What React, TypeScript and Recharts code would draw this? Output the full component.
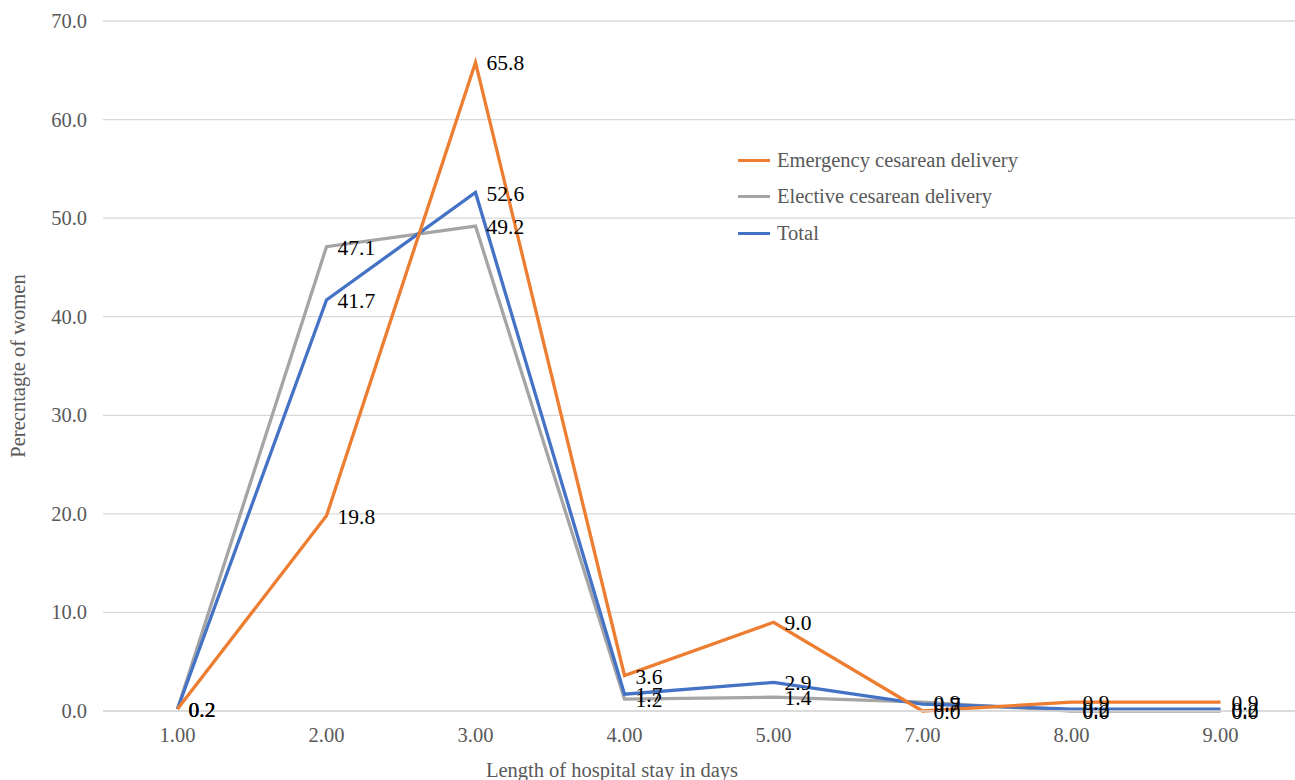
import React from 'react';
import { LineChart, Line, XAxis, YAxis, CartesianGrid, Legend, LabelList } from 'recharts';

const days = ['1.00', '2.00', '3.00', '4.00', '5.00', '7.00', '8.00', '9.00'];
const emergency = [0.2, 19.8, 65.8, 3.6, 9.0, 0.0, 0.9, 0.9];
const elective = [0.2, 47.1, 49.2, 1.2, 1.4, 0.9, 0.0, 0.0];
const total = [0.2, 41.7, 52.6, 1.7, 2.9, 0.7, 0.2, 0.2];
const yTicks = [0, 10, 20, 30, 40, 50, 60, 70];

const series = [
  { key: 'emergency', name: 'Emergency cesarean delivery', color: '#ED7D31' },
  { key: 'elective', name: 'Elective cesarean delivery', color: '#A5A5A5' },
  { key: 'total', name: 'Total', color: '#4472C4' },
];

const data = days.map((d, i) => ({
  day: d,
  emergency: emergency[i],
  elective: elective[i],
  total: total[i],
}));

const FONT = '"Liberation Serif", "Times New Roman", serif';
const GREY_TEXT = '#595959';
const FS = 20.5;

const fmt = (v: number) => Number(v).toFixed(1);

const LegendBox = () => (
  <div style={{ fontFamily: FONT, fontSize: FS, color: GREY_TEXT, whiteSpace: 'nowrap' }}>
    {series.map((s) => (
      <div key={s.key} style={{ display: 'flex', alignItems: 'center', height: 36.5 }}>
        <span style={{ display: 'inline-block', width: 32, height: 3, background: s.color, marginRight: 7 }} />
        <span>{s.name}</span>
      </div>
    ))}
  </div>
);

const XTick = (props: any) => {
  const { x, y, payload } = props;
  return (
    <text x={x} y={y} dy={13} textAnchor="middle" fill={GREY_TEXT} fontSize={FS} fontFamily={FONT}>
      {payload.value}
    </text>
  );
};

const YTick = (props: any) => {
  const { x, y, payload } = props;
  return (
    <text x={x} y={y} dy={7} textAnchor="end" fill={GREY_TEXT} fontSize={FS} fontFamily={FONT}>
      {fmt(payload.value)}
    </text>
  );
};

const PointLabel = (props: any) => {
  const x = props.x ?? props.viewBox?.x;
  const y = props.y ?? props.viewBox?.y;
  if (x == null || y == null) return null;
  return (
    <text x={x + 11} y={y} dy={8} textAnchor="start" fill="#000" fontSize={21.5} fontFamily={FONT}>
      {fmt(props.value)}
    </text>
  );
};

export default function App() {
  return (
    <div style={{ position: 'absolute', left: 0, top: 0, width: 1295, height: 780, background: '#fff', fontFamily: FONT }}>
      <LineChart width={1295} height={780} data={data} margin={{ top: 21, right: 0, bottom: 0, left: 0 }}>
        <CartesianGrid vertical={false} stroke="#D9D9D9" strokeWidth={1.3} />
        <XAxis
          dataKey="day"
          height={69}
          padding={{ left: 74.5, right: 74.5 }}
          axisLine={{ stroke: '#D9D9D9', strokeWidth: 1.3 }}
          tickLine={false}
          tickSize={0}
          tickMargin={18}
          tick={<XTick />}
          label={{
            content: () => (
              <text x={612} y={777} textAnchor="middle" fill={GREY_TEXT} fontSize={FS} fontFamily={FONT}>
                Length of hospital stay in days
              </text>
            ),
          }}
        />
        <YAxis
          width={103}
          domain={[0, 70]}
          ticks={yTicks}
          axisLine={false}
          tickLine={false}
          tickSize={0}
          tickMargin={16}
          tick={<YTick />}
          label={{
            content: () => (
              <text
                x={25}
                y={366}
                textAnchor="middle"
                fill={GREY_TEXT}
                fontSize={FS}
                fontFamily={FONT}
                transform="rotate(-90 25 366)"
              >
                Perecntagte of women
              </text>
            ),
          }}
        />
        <Legend
          layout="vertical"
          verticalAlign="middle"
          align="center"
          wrapperStyle={{ left: 738, top: 142, width: 320, transform: 'none' }}
          content={() => <LegendBox />}
        />
        {[series[1], series[2], series[0]].map((s) => (
          <Line
            key={s.key}
            type="linear"
            dataKey={s.key}
            name={s.name}
            stroke={s.color}
            strokeWidth={3.3}
            dot={false}
            activeDot={false}
            isAnimationActive={false}
          >
            <LabelList dataKey={s.key} content={<PointLabel />} />
          </Line>
        ))}
      </LineChart>
    </div>
  );
}
